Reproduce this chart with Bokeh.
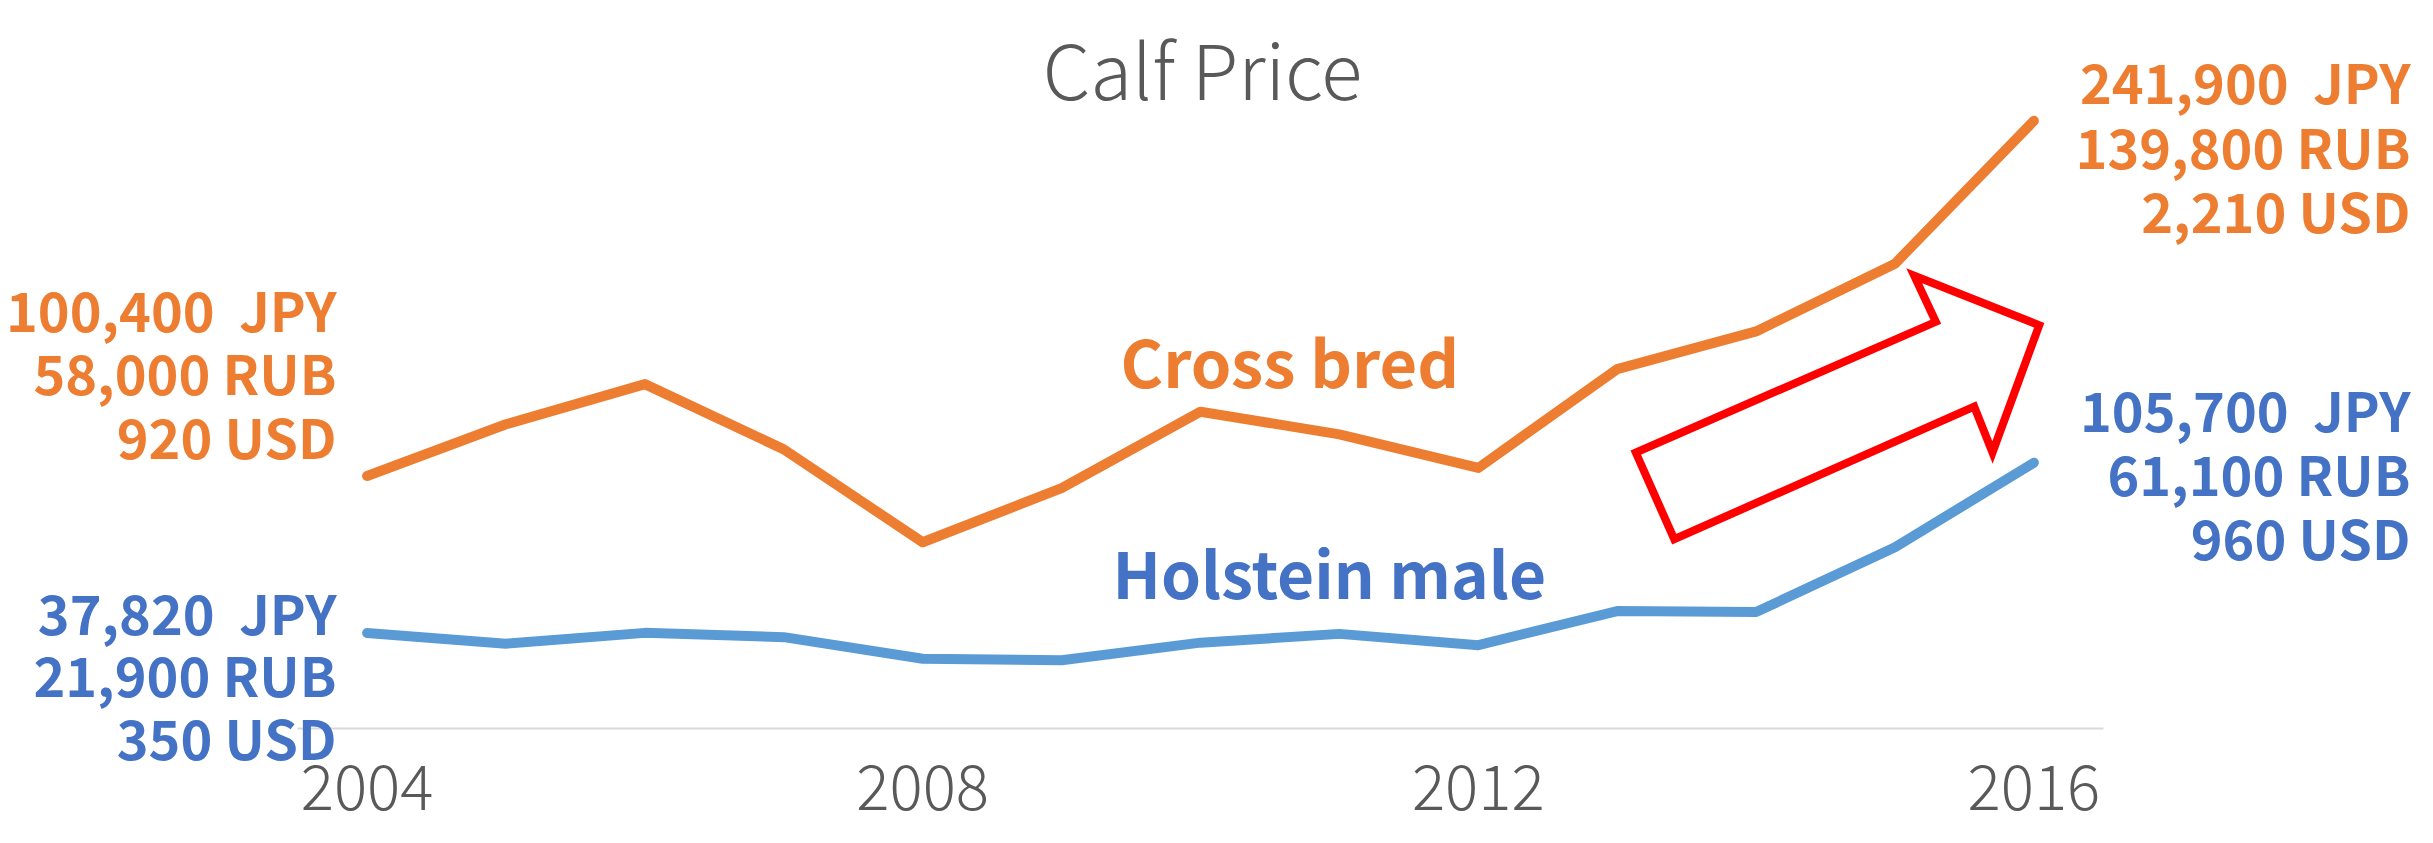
from bokeh.plotting import figure
from bokeh.models import Label, FixedTicker, PolyAnnotation, Range1d
from bokeh.embed import file_html
from bokeh.resources import INLINE

# ---- data ----
years = list(range(2004, 2017))
cross_bred = [100400, 121000, 137000, 111000, 74000, 95600, 126000,
              117000, 103600, 143000, 158000, 185000, 241900]
holstein = [37820, 33600, 37900, 36200, 27600, 27000, 34000,
            37500, 33000, 46600, 46200, 72000, 105700]
tick_years = [2004, 2008, 2012, 2016]

NB = "\u00a0"  # keeps the double space before JPY visible
cross_start_labels = [f"100,400{NB} JPY", "58,000 RUB", "920 USD"]
cross_end_labels = [f"241,900{NB} JPY", "139,800 RUB", "2,210 USD"]
hol_start_labels = [f"37,820{NB} JPY", "21,900 RUB", "350 USD"]
hol_end_labels = [f"105,700{NB} JPY", "61,100 RUB", "960 USD"]

ORANGE_LINE = "#ED7D31"
BLUE_LINE = "#5B9BD5"
ORANGE_TXT = "#ED7D31"
BLUE_TXT = "#4472C4"
GRAY = "#595959"
BOLD_FONT = "Noto Sans CJK JP"
LIGHT_FONT = "Noto Sans CJK JP Light"

W, H = 2417, 827
PX_PER_YEAR = 138.9
PX_PER_JPY = 0.00251
X_2004 = 374.6 - 8      # pixel of 2004 inside the figure
Y_ZERO = 735.5 - 8      # pixel of 0 JPY inside the figure

x_start = years[0] - X_2004 / PX_PER_YEAR
x_end = x_start + W / PX_PER_YEAR
y_end = Y_ZERO / PX_PER_JPY
y_start = -(H - Y_ZERO) / PX_PER_JPY

p = figure(width=W, height=H, output_backend="svg", toolbar_location=None,
           x_range=Range1d(x_start, x_end), y_range=Range1d(y_start, y_end),
           y_axis_location=None,
           min_border_left=0, min_border_right=0,
           min_border_top=0, min_border_bottom=0)
p.outline_line_color = None
p.grid.visible = False
p.background_fill_color = "white"
p.border_fill_color = "white"

ax = p.xaxis[0]
ax.fixed_location = 0
ax.bounds = (years[0] - 0.5, years[-1] + 0.5)
ax.ticker = FixedTicker(ticks=tick_years)
ax.axis_line_color = "#D9D9D9"
ax.axis_line_width = 2
ax.major_tick_line_color = None
ax.minor_tick_line_color = None
ax.major_label_text_font = LIGHT_FONT
ax.major_label_text_font_size = "62px"
ax.major_label_text_color = GRAY
ax.major_label_standoff = 31

p.line(years, cross_bred, line_color=ORANGE_LINE, line_width=10,
       line_cap="round", line_join="round")
p.line(years, holstein, line_color=BLUE_LINE, line_width=10,
       line_cap="round", line_join="round")

# helpers converting reference-pixel layout positions to plot coordinates
def dx(px):
    return years[0] + (px - 374.6) / PX_PER_YEAR

def dy(py):
    return (735.5 - py) / PX_PER_JPY

def add_label(text, px, py, color, size, align="left", font=BOLD_FONT, style="bold"):
    # py: wanted baseline; the text box bottom lies below it
    py_box = py + 0.29 * size + 10
    p.add_layout(Label(x=dx(px), y=dy(py_box), text=text, text_color=color,
                       text_font=font, text_font_style=style,
                       text_font_size=f"{size}px", text_align=align,
                       text_baseline="bottom"))

# title
add_label("Calf Price", 1210, 97, GRAY, 76, align="center",
          font=LIGHT_FONT, style="normal")

# side labels
for t, py in zip(cross_start_labels, [330, 393, 457]):
    add_label(t, 344, py, ORANGE_TXT, 54, align="right")
for t, py in zip(hol_start_labels, [633, 695, 758]):
    add_label(t, 344, py, BLUE_TXT, 54, align="right")
for t, py in zip(cross_end_labels, [102, 167, 231]):
    add_label(t, 2418, py, ORANGE_TXT, 54, align="right")
for t, py in zip(hol_end_labels, [430, 494, 558]):
    add_label(t, 2418, py, BLUE_TXT, 54, align="right")

# series names
add_label("Cross bred", 1128, 386, ORANGE_TXT, 65)
add_label("Holstein male", 1120, 596, BLUE_TXT, 64)

# red block arrow (decoration)
arrow_px = [(1681.7, 546.7), (1643.3, 460), (1943.3, 329.3), (1921.7, 283.3),
            (2046.7, 332.7), (2000, 460), (1981.7, 414)]
p.add_layout(PolyAnnotation(xs=[dx(a) for a, b in arrow_px],
                            ys=[dy(b) for a, b in arrow_px],
                            fill_alpha=0, line_color="#FF0000", line_alpha=1,
                            line_width=8, line_join="miter"))

open("out.html", "w").write(file_html(p, INLINE))
